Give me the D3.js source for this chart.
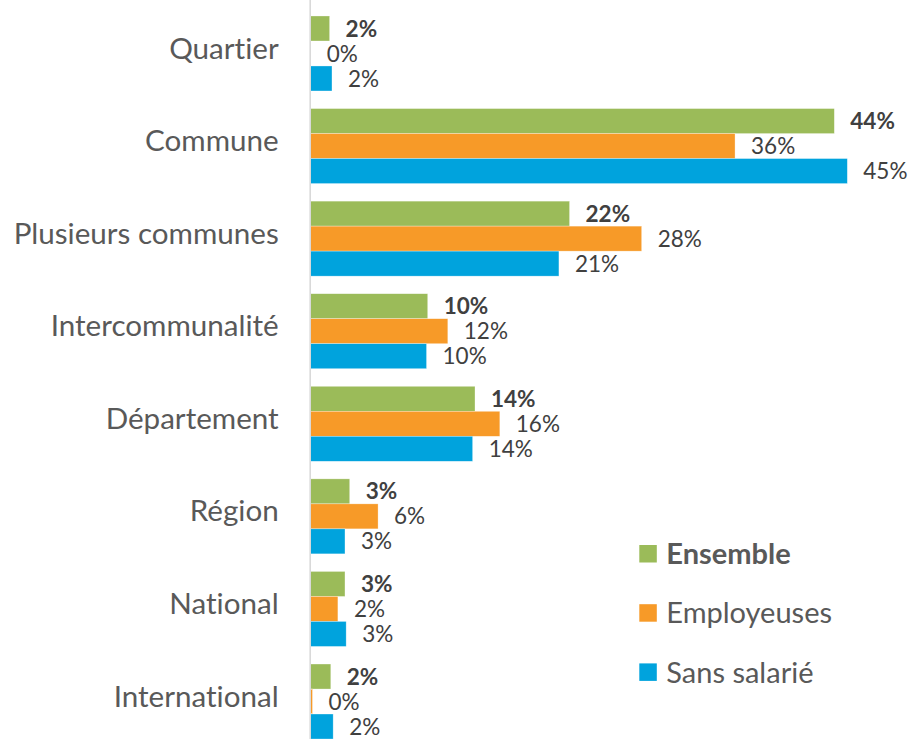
<!DOCTYPE html>
<html>
<head>
<meta charset="utf-8">
<script src="https://cdn.jsdelivr.net/npm/d3@7"></script>
<style>
body { margin: 0; background: #fff; }
svg { display: block; }
text { font-variant-ligatures: none; font-feature-settings: "liga" 0; }
</style>
</head>
<body>
<script>
// values in %
var categories = ["Quartier", "Commune", "Plusieurs communes", "Intercommunalité", "Département", "Région", "National", "International"];
var seriesNames = ["Ensemble", "Employeuses", "Sans salarié"];
var ensemble = [1.6, 44.3, 21.9, 9.9, 13.9, 3.3, 2.9, 1.7];
var employeuses = [0, 35.9, 28.0, 11.6, 16.0, 5.7, 2.3, 0.15];
var sansSalarie = [1.8, 45.4, 21.0, 9.8, 13.7, 2.9, 3.0, 1.9];
var colors = ["#9BBB59", "#F79A28", "#00A3DD"];

var width = 911, height = 739;
var x0 = 310.7;

var svg = d3.select("body").append("svg")
    .attr("width", width)
    .attr("height", height);

var x = d3.scaleLinear()
    .domain([0, 50])
    .range([x0, x0 + 50 * 11.82]);

var y = d3.scaleBand()
    .domain(categories)
    .range([-1.6, 756.6])
    .padding(0.19);

var ySub = d3.scaleBand()
    .domain(seriesNames)
    .range([0, y.bandwidth()]);

var table = categories.map(function(c, i) {
  return {cat: c, vals: [ensemble[i], employeuses[i], sansSalarie[i]]};
});

var groups = svg.selectAll(".group")
    .data(table)
  .enter().append("g")
    .attr("class", "group")
    .attr("transform", function(d) { return "translate(0," + y(d.cat) + ")"; });

groups.selectAll("rect")
    .data(function(d) { return d.vals; })
  .enter().append("rect")
    .attr("x", x(0))
    .attr("y", function(d, i) { return ySub(seriesNames[i]); })
    .attr("width", function(d) { return x(d) - x(0); })
    .attr("height", ySub.bandwidth())
    .attr("fill", function(d, i) { return colors[i]; })
    .attr("stroke", "#fff")
    .attr("stroke-opacity", 0.5)
    .attr("stroke-width", 0.6);

var pct = d3.format(".0f");
groups.selectAll(".lbl")
    .data(function(d) { return d.vals; })
  .enter().append("text")
    .attr("class", "lbl")
    .attr("x", function(d) { return x(d) + 16; })
    .attr("y", function(d, i) { return ySub(seriesNames[i]) + ySub.bandwidth() / 2; })
    .attr("dy", "0.36em")
    .style("font-family", "Lato, 'Open Sans', sans-serif")
    .style("font-size", "22.5px")
    .style("font-weight", function(d, i) { return i == 0 ? "bold" : "normal"; })
    .style("fill", "#404040")
    .text(function(d) { return pct(d) + "%"; });

// category axis
var yAxis = d3.axisLeft(y).tickSize(0).tickPadding(31);
var ax = svg.append("g")
    .attr("transform", "translate(" + (x0 - 1) + ",0)")
    .call(yAxis);
ax.select(".domain").attr("stroke", "#d9d9d9").attr("stroke-width", 1.6);
ax.selectAll("text")
    .attr("dy", "0.17em")
    .style("font-family", "Lato, 'Open Sans', sans-serif")
    .style("font-size", "29.6px")
    .style("fill", "#595959");

// legend
var legend = svg.selectAll(".legend")
    .data(seriesNames)
  .enter().append("g")
    .attr("class", "legend")
    .attr("transform", function(d, i) { return "translate(639.3," + (545 + i * 59.2) + ")"; });

legend.append("rect")
    .attr("width", 17.5)
    .attr("height", 17.5)
    .attr("fill", function(d, i) { return colors[i]; });

legend.append("text")
    .attr("x", 27)
    .attr("y", 8.8)
    .attr("dy", "0.36em")
    .style("font-family", "Lato, 'Open Sans', sans-serif")
    .style("font-size", "29px")
    .style("font-weight", function(d, i) { return i == 0 ? "bold" : "normal"; })
    .style("fill", "#595959")
    .text(function(d) { return d; });
</script>
</body>
</html>
